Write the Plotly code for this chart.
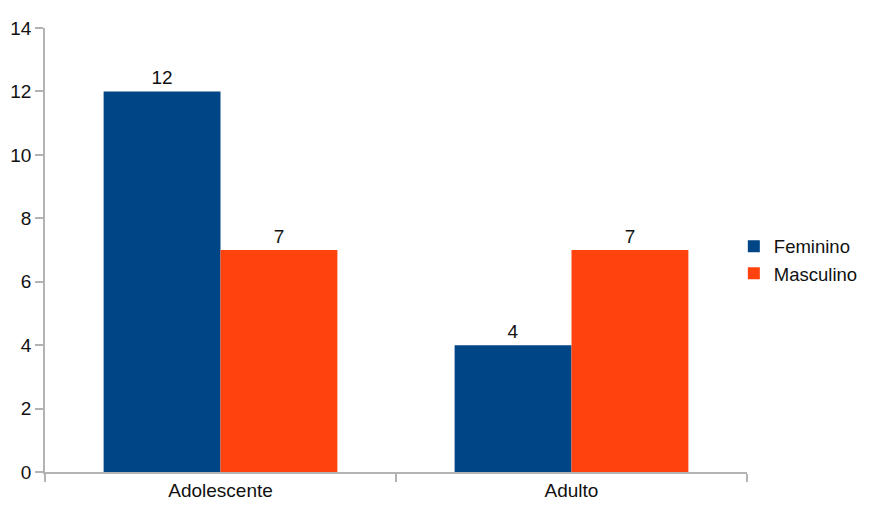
import plotly.graph_objects as go

categories = ["Adolescente", "Adulto"]
feminino = [12, 4]
masculino = [7, 7]
series_names = ["Feminino", "Masculino"]
colors = ["#004586", "#FF420E"]
y_ticks = [0, 2, 4, 6, 8, 10, 12, 14]

fig = go.Figure()
for name, vals, col in zip(series_names, [feminino, masculino], colors):
    fig.add_trace(go.Bar(
        x=categories, y=vals, name=name, marker=dict(color=col, line=dict(width=0)),
        text=[str(v) for v in vals], textposition="outside",
        textfont=dict(size=19, color="#111111"), cliponaxis=False,
    ))

# page body has an 8px default margin, so the figure is sized/offset accordingly
fig.update_layout(
    width=861, height=497,
    margin=dict(l=37, r=122, t=20, b=33, autoexpand=False),
    paper_bgcolor="white", plot_bgcolor="white",
    barmode="group", bargap=0.334, bargroupgap=0,
    font=dict(family="Liberation Sans, Arial, sans-serif", size=19, color="#111111"),
    showlegend=True,
    legend=dict(x=1.165, y=0.477, xanchor="right", yanchor="middle",
                font=dict(size=18.5), itemwidth=30, tracegroupgap=0,
                borderwidth=0, bgcolor="rgba(0,0,0,0)"),
)
fig.update_xaxes(
    automargin=False,
    showline=True, linecolor="#b3b3b3", linewidth=1.5,
    ticks="outside", ticklen=8, tickcolor="#b3b3b3", tickwidth=1.5,
    tickson="boundaries", showgrid=False, zeroline=False,
    tickfont=dict(size=19),
)
fig.update_yaxes(
    automargin=False,
    range=[0, 14], tickvals=y_ticks, showline=True, linecolor="#b3b3b3", linewidth=1.5,
    ticks="outside", ticklen=8, tickcolor="#b3b3b3", tickwidth=1.5,
    showgrid=False, zeroline=False, tickfont=dict(size=19),
)

fig.write_html("out.html")
